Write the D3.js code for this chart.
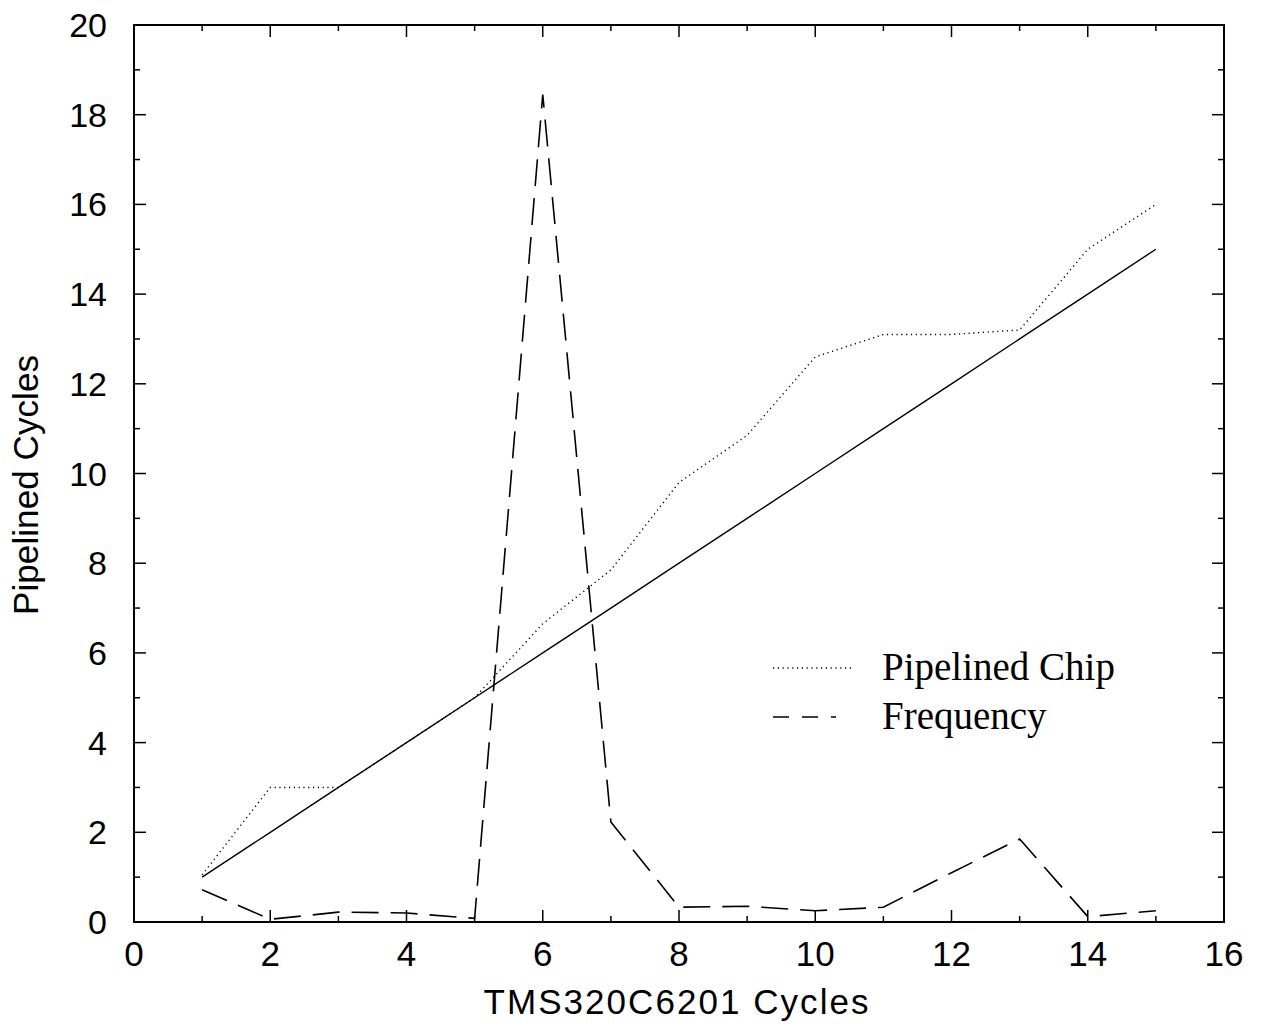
<!DOCTYPE html>
<html>
<head>
<meta charset="utf-8">
<script src="https://cdn.jsdelivr.net/npm/d3@7"></script>
<style>
  body { margin: 0; background: #fff; }
  svg { display: block; }
</style>
</head>
<body>
<svg id="chart" width="1263" height="1030"></svg>
<script>
const xValues = [1,2,3,4,5,6,7,8,9,10,11,12,13,14,15];
const idealValues = [1,2,3,4,5,6,7,8,9,10,11,12,13,14,15];
const pipelinedChip = [1.05,3.0,3.0,4.0,5.0,6.65,7.85,9.8,10.85,12.6,13.1,13.1,13.2,15.0,16.0];
const frequency = [0.72,0.06,0.22,0.2,0.08,18.45,2.23,0.33,0.35,0.25,0.33,1.1,1.85,0.12,0.25];
const xTicks = [0,2,4,6,8,10,12,14,16];
const yTicks = [0,2,4,6,8,10,12,14,16,18,20];
const legendLabels = ["Pipelined Chip", "Frequency"];

const svg = d3.select("#chart");
const L = 134, R = 1224, T = 25, B = 922;
const x = d3.scaleLinear().domain([0,16]).range([L,R]);
const y = d3.scaleLinear().domain([0,20]).range([B,T]);

svg.append("rect").attr("x",L).attr("y",T).attr("width",R-L).attr("height",B-T)
  .attr("fill","none").attr("stroke","#000").attr("stroke-width",2);

const sans = "Liberation Sans, Arial, Helvetica, sans-serif";
const serif = "Liberation Serif, Times New Roman, serif";

const minorX = d3.range(1,16,2), minorY = d3.range(1,20,2);
const tickG = svg.append("g").attr("stroke","#000").attr("stroke-width",1.5);
xTicks.forEach(v => {
  tickG.append("line").attr("x1",x(v)).attr("x2",x(v)).attr("y1",B).attr("y2",B-12);
  tickG.append("line").attr("x1",x(v)).attr("x2",x(v)).attr("y1",T).attr("y2",T+12);
});
minorX.forEach(v => {
  tickG.append("line").attr("x1",x(v)).attr("x2",x(v)).attr("y1",B).attr("y2",B-6);
  tickG.append("line").attr("x1",x(v)).attr("x2",x(v)).attr("y1",T).attr("y2",T+6);
});
yTicks.forEach(v => {
  tickG.append("line").attr("x1",L).attr("x2",L+12).attr("y1",y(v)).attr("y2",y(v));
  tickG.append("line").attr("x1",R).attr("x2",R-12).attr("y1",y(v)).attr("y2",y(v));
});
minorY.forEach(v => {
  tickG.append("line").attr("x1",L).attr("x2",L+6).attr("y1",y(v)).attr("y2",y(v));
  tickG.append("line").attr("x1",R).attr("x2",R-6).attr("y1",y(v)).attr("y2",y(v));
});

svg.append("g").selectAll("text").data(xTicks).join("text")
  .attr("x", d => x(d)).attr("y", 966).attr("text-anchor","middle")
  .attr("font-family", sans).attr("font-size", 35).text(d => d);
svg.append("g").selectAll("text").data(yTicks).join("text")
  .attr("x", 107).attr("y", d => y(d) + 12).attr("text-anchor","end")
  .attr("font-family", sans).attr("font-size", 34).text(d => d);

svg.append("text").attr("x", 676).attr("y", 1014).attr("text-anchor","middle")
  .attr("font-family", sans).attr("font-size", 35)
  .attr("textLength", 385).attr("lengthAdjust","spacing").text("TMS320C6201 Cycles");
svg.append("text").attr("transform","translate(38,485) rotate(-90)").attr("text-anchor","middle")
  .attr("font-family", sans).attr("font-size", 35)
  .attr("textLength", 260).attr("lengthAdjust","spacing").text("Pipelined Cycles");

const line = d3.line().x((d,i) => x(xValues[i])).y(d => y(d));
svg.append("path").datum(idealValues).attr("d", line)
  .attr("fill","none").attr("stroke","#000").attr("stroke-width",1.4);
svg.append("path").datum(pipelinedChip).attr("d", line)
  .attr("fill","none").attr("stroke","#000").attr("stroke-width",1.4)
  .attr("stroke-dasharray","1.2,3.6");
svg.append("path").datum(frequency).attr("d", line)
  .attr("fill","none").attr("stroke","#000").attr("stroke-width",1.6)
  .attr("stroke-dasharray","27,12");

const lg = svg.append("g");
lg.append("line").attr("x1",773).attr("x2",852).attr("y1",668).attr("y2",668)
  .attr("stroke","#000").attr("stroke-width",1.4).attr("stroke-dasharray","1.2,3.6");
lg.append("line").attr("x1",773).attr("x2",836).attr("y1",717).attr("y2",717)
  .attr("stroke","#000").attr("stroke-width",1.6).attr("stroke-dasharray","16,13");
lg.selectAll("text").data(legendLabels).join("text")
  .attr("x", 882).attr("y", (d,i) => 680 + i*49)
  .attr("font-family", serif).attr("font-size", 39).text(d => d);
</script>
</body>
</html>
